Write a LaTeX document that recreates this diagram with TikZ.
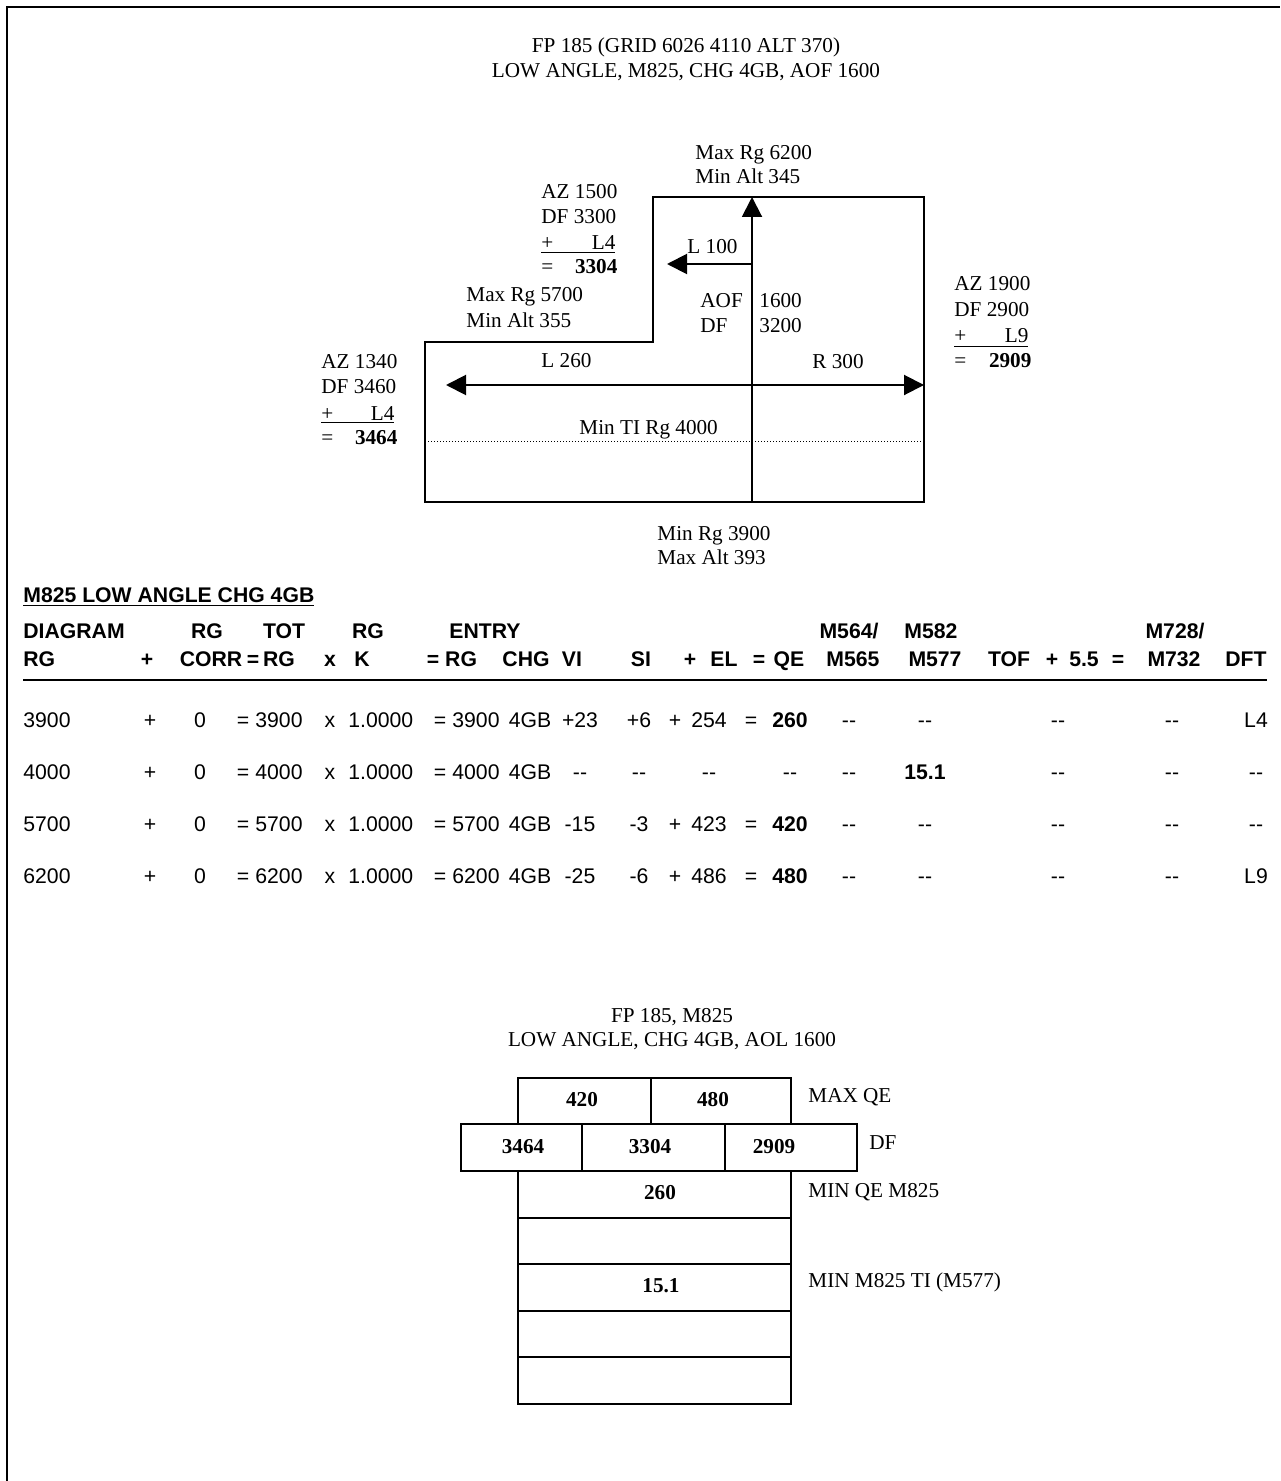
\documentclass[tikz,border=0pt]{standalone}
\usepackage{fontspec}
\setmainfont{Liberation Serif}
\newfontfamily\tablefont{Liberation Sans}
\usetikzlibrary{arrows.meta}
\newcommand\dashes{-\kern0pt-}

\begin{document}
\begin{tikzpicture}[x=0.5pt,y=-0.5pt,
    txt/.style={font=\fontsize{10.6}{12.7}\selectfont,inner sep=0pt,anchor=base west},
    val/.style={font=\fontsize{10.6}{12.7}\selectfont\bfseries,inner sep=0pt},
    tab/.style={font=\tablefont\fontsize{10.6}{12.7}\selectfont,inner sep=0pt,anchor=base},
    thd/.style={tab,font=\tablefont\bfseries\fontsize{10.6}{12.7}\selectfont},
    edge/.style={line width=1pt},
    arr/.style={edge,-{Triangle[length=10pt,width=10pt]}},
    cell/.style={draw,line width=1pt,inner sep=0pt,anchor=north west}]

    \useasboundingbox (0,0) rectangle (1280,1481);

    % page frame
    \coordinate (fbl) at (7,1481);
    \coordinate (ftl) at (7,7);
    \coordinate (ftr) at (1280,7);
    \draw[line width=0.9pt] (fbl) -- (ftl) -- (ftr);

    % firing diagram
    \node[txt,anchor=base] (title1) at (686,53) {FP 185 (GRID 6026 4110 ALT 370)};
    \node[txt,anchor=base] (title2) at (686,78) {LOW ANGLE, M825, CHG 4GB, AOF 1600};

    \coordinate (o1) at (425,342);
    \coordinate (o2) at (653,342);
    \coordinate (o3) at (653,197);
    \coordinate (o4) at (924,197);
    \coordinate (o5) at (924,502);
    \coordinate (o6) at (425,502);
    \draw[edge] (o1) -- (o2) -- (o3) -- (o4) -- (o5) -- (o6) -- cycle;

    \coordinate (aofbase) at (752,502);
    \coordinate (aoftop) at (752,197);
    \coordinate (lfrom) at (752,264);
    \coordinate (lto) at (667,264);
    \coordinate (west) at (446,385);
    \coordinate (east) at (924,385);
    \coordinate (tileft) at (425,441);
    \coordinate (tiright) at (924,441);
    \draw[arr] (aofbase) -- (aoftop);
    \draw[arr] (lfrom) -- (lto);
    \draw[edge,{Triangle[length=10pt,width=10pt]}-{Triangle[length=10pt,width=10pt]}] (west) -- (east);
    \draw[line width=0.5pt,dash pattern=on 0.5pt off 1pt] (tileft) -- (tiright);

    \node[txt] (maxrg1) at (695,160) {Max Rg 6200};
    \node[txt] (minalt1) at (695,184) {Min Alt 345};
    \node[txt] (az2) at (541,199) {AZ 1500};
    \node[txt] (df2) at (541,224) {DF 3300};
    \node[txt] (corr2) at (541,250) {\underline{\makebox[37pt][l]{+\hfill L4}}};
    \node[txt] (sum2) at (541,274) {\makebox[38pt][l]{=\hfill\textbf{3304}}};
    \node[txt] (l100) at (687,254) {L 100};
    \node[txt] (maxrg2) at (466,302) {Max Rg 5700};
    \node[txt] (minalt2) at (466,328) {Min Alt 355};
    \node[txt] (aof) at (700,307) {AOF};
    \node[txt] (dflbl) at (700,333) {DF};
    \node[txt] (aofval) at (759,307) {1600};
    \node[txt] (dfval) at (759,333) {3200};
    \node[txt] (az3) at (954,291) {AZ 1900};
    \node[txt] (df3) at (954,317) {DF 2900};
    \node[txt] (corr3) at (954,343) {\underline{\makebox[37pt][l]{+\hfill L9}}};
    \node[txt] (sum3) at (954,367) {\makebox[38.5pt][l]{=\hfill\textbf{2909}}};
    \node[txt] (l260) at (541,367) {L 260};
    \node[txt] (r300) at (812,368) {R 300};
    \node[txt] (az1) at (321,368) {AZ 1340};
    \node[txt] (df1) at (321,393) {DF 3460};
    \node[txt] (corr1) at (321,420) {\underline{\makebox[36.5pt][l]{+\hfill L4}}};
    \node[txt] (sum1) at (321,444) {\makebox[38pt][l]{=\hfill\textbf{3464}}};
    \node[txt] (minti) at (579,434) {Min TI Rg 4000};
    \node[txt] (minrg) at (657,540) {Min Rg 3900};
    \node[txt] (maxalt) at (657,564) {Max Alt 393};

    % computation table
    \node[thd,anchor=base west] (ttl) at (23,602) {\underline{M825 LOW ANGLE CHG 4GB}};

    \node[thd,anchor=base west] (h-diag) at (23,638.5) {DIAGRAM};
    \node[thd] (h-rgc) at (207,638.5) {RG};
    \node[thd] (h-tot) at (284,638.5) {TOT};
    \node[thd] (h-rgk) at (368,638.5) {RG};
    \node[thd] (h-entry) at (485,638.5) {ENTRY};
    \node[thd] (h-m564) at (849,638.5) {M564/};
    \node[thd] (h-m582) at (931,638.5) {M582};
    \node[thd] (h-m728) at (1175,638.5) {M728/};

    \node[thd,anchor=base west] (h-rg) at (23,666) {RG};
    \foreach \x/\t [count=\i] in {147/+,211/CORR,253/=,279/RG,330/x,362/K,
        452/= RG,526/CHG,572/VI,641/SI,690/+,724/EL,759/=,789/QE,853/M565,
        935/M577,1009/TOF,1052/+,1084/5.5,1118/=,1174/M732}
      \node[thd] (hb\i) at (\x,666) {\t};
    \node[thd,anchor=base east] (h-dft) at (1267,666) {DFT};

    \coordinate (hl) at (23,680);
    \coordinate (hr) at (1267,680);
    \draw[line width=1.3pt] (hl) -- (hr);

    \foreach \yy/\rg/\vi/\si/\pl/\el/\eq/\qe/\mt/\dft [count=\i] in {
        727.5/3900/+23/+6/+/254/=/\textbf{260}/\dashes/L4,
        779.5/4000/\dashes/\dashes/{}/\dashes/{}/\dashes/\textbf{15.1}/\dashes,
        831.5/5700/-15/-3/+/423/=/\textbf{420}/\dashes/\dashes,
        883.5/6200/-25/-6/+/486/=/\textbf{480}/\dashes/L9} {
      \node[tab,anchor=base west] (d\i-rg) at (23,\yy) {\rg};
      \node[tab] (d\i-p) at (150,\yy) {+};
      \node[tab] (d\i-c) at (200,\yy) {0};
      \node[tab] (d\i-e1) at (243,\yy) {=};
      \node[tab,anchor=base west] (d\i-tot) at (255,\yy) {\rg};
      \node[tab] (d\i-x) at (330,\yy) {x};
      \node[tab,anchor=base west] (d\i-k) at (348,\yy) {1.0000};
      \node[tab] (d\i-e2) at (440,\yy) {=};
      \node[tab,anchor=base west] (d\i-ent) at (452,\yy) {\rg};
      \node[tab] (d\i-chg) at (530,\yy) {4GB};
      \node[tab] (d\i-vi) at (580,\yy) {\vi};
      \node[tab] (d\i-si) at (639,\yy) {\si};
      \node[tab] (d\i-pl) at (675,\yy) {\pl};
      \node[tab] (d\i-el) at (709,\yy) {\el};
      \node[tab] (d\i-eq) at (751,\yy) {\eq};
      \node[tab] (d\i-qe) at (790,\yy) {\qe};
      \node[tab] (d\i-m565) at (849,\yy) {\dashes};
      \node[tab] (d\i-m577) at (925,\yy) {\mt};
      \node[tab] (d\i-tof) at (1058,\yy) {\dashes};
      \node[tab] (d\i-m732) at (1172,\yy) {\dashes};
      \node[tab] (d\i-dft) at (1256,\yy) {\dft};
    }

    % summary card
    \node[txt,anchor=base] (ctitle1) at (672,1022) {FP 185, M825};
    \node[txt,anchor=base] (ctitle2) at (672,1046) {LOW ANGLE, CHG 4GB, AOL 1600};

    \node[cell,minimum width=66.5pt,minimum height=23pt] (qe420) at (517,1077) {};
    \node[cell,minimum width=70pt,minimum height=23pt] (qe480) at (650,1077) {};
    \node[cell,minimum width=60.5pt,minimum height=23.5pt] (df1box) at (460,1123) {};
    \node[cell,minimum width=71.5pt,minimum height=23.5pt] (df2box) at (581,1123) {};
    \node[cell,minimum width=66pt,minimum height=23.5pt] (df3box) at (724,1123) {};
    \foreach \yt [count=\i] in {1170,1216.5,1263,1309.5,1356}
      \node[cell,minimum width=136.5pt,minimum height=23.3pt] (row\i) at (517,\yt) {};

    \node[val] (v420) at (582,1100) {420};
    \node[val] (v480) at (713,1100) {480};
    \node[val] (v3464) at (523,1147) {3464};
    \node[val] (v3304) at (650,1147) {3304};
    \node[val] (v2909) at (774,1147) {2909};
    \node[val] (v260) at (660,1193) {260};
    \node[val] (v151) at (661,1286) {15.1};

    \node[txt,anchor=west] (maxqe) at (808,1097) {MAX QE};
    \node[txt,anchor=west] (dfrow) at (869,1143) {DF};
    \node[txt,anchor=west] (minqe) at (808,1192) {MIN QE M825};
    \node[txt] (minti2) at (808,1287) {MIN M825 TI (M577)};
  \end{tikzpicture}
\end{document}
